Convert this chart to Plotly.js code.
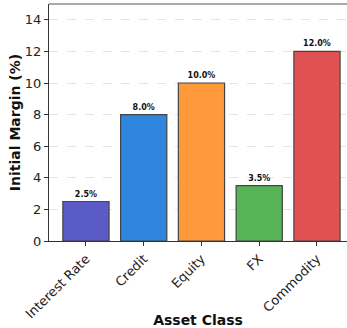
<!DOCTYPE html>
<html>
<head>
<meta charset="utf-8">
<script src="https://cdn.plot.ly/plotly-3.0.1.min.js"></script>
<style>html,body{margin:0;padding:0;background:#fff;}#chart{width:347px;height:328px;}</style>
</head>
<body>
<div id="chart"></div>
<script>
const categories = ["Interest Rate", "Credit", "Equity", "FX", "Commodity"];
const margins = [2.5, 8.0, 10.0, 3.5, 12.0];
const labels = ["2.5%", "8.0%", "10.0%", "3.5%", "12.0%"];
const colors = ["#5b5bc6", "#2e86de", "#ff9a3c", "#56b356", "#e05252"];
const yTicks = [0, 2, 4, 6, 8, 10, 12, 14];

const trace = {
  type: "bar",
  x: categories.map((c, i) => i),
  y: margins,
  width: 0.8,
  marker: {color: colors, line: {color: "#444", width: 1.2}},
  text: labels.map(t => "<b>" + t + "</b>"),
  textposition: "outside",
  textfont: {family: "DejaVu Sans", size: 8, color: "#111"},
  cliponaxis: false,
  hoverinfo: "none"
};

const layout = {
  width: 347, height: 328,
  margin: {l: 49, r: 0, t: 4, b: 87},
  paper_bgcolor: "#fff", plot_bgcolor: "#fff",
  showlegend: false,
  font: {family: "DejaVu Sans", color: "#222"},
  xaxis: {
    range: [-0.64, 4.52],
    tickmode: "array",
    tickvals: categories.map((c, i) => i),
    ticktext: categories,
    tickangle: -45,
    tickfont: {size: 13, color: "#222"},
    ticks: "outside", ticklen: 4, tickcolor: "#333",
    showline: true, linecolor: "#333", linewidth: 1.2,
    showgrid: false, zeroline: false,
    title: {text: "<b>Asset Class</b>", font: {size: 14, color: "#111"}, standoff: 4}
  },
  yaxis: {
    range: [0, 15],
    tickmode: "array",
    tickvals: yTicks,
    tickfont: {size: 13, color: "#222"},
    ticks: "outside", ticklen: 4, tickcolor: "#333",
    showline: true, linecolor: "#333", linewidth: 1.2,
    showgrid: true, gridcolor: "#e4e4e4", griddash: "dash", gridwidth: 1,
    zeroline: false,
    title: {text: "<b>Initial Margin (%)</b>", font: {size: 14, color: "#111"}, standoff: 0}
  },
  bargap: 0.2,
  shapes: [{type: "line", xref: "paper", yref: "paper", x0: 0, x1: 1, y0: 1, y1: 1,
            line: {color: "#555", width: 1.2}}]
};

Plotly.newPlot("chart", [trace], layout, {displayModeBar: false, staticPlot: true});
</script>
</body>
</html>
